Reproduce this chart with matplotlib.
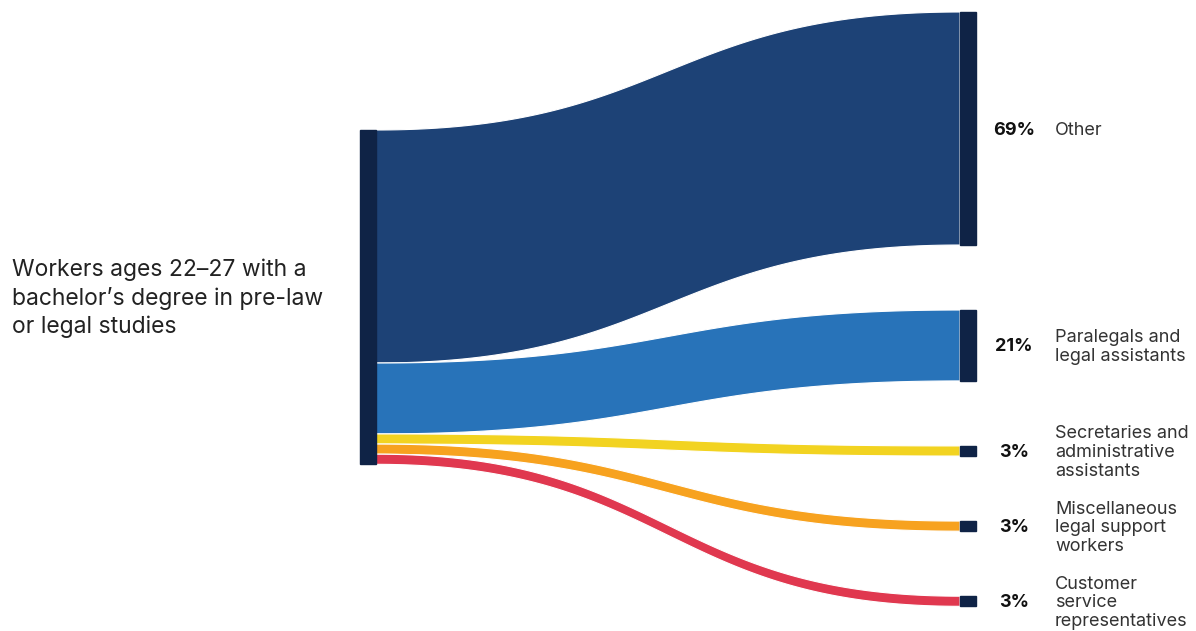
import matplotlib.pyplot as plt
import numpy as np
from matplotlib.patches import Polygon, Rectangle

plt.rcParams['font.family'] = ['Inter', 'DejaVu Sans']

# Flows out of the source node (percent of workers)
source_label = 'Workers ages 22\u201327 with a\nbachelor\u2019s degree in pre-law\nor legal studies'
targets = [
    'Other',
    'Paralegals and\nlegal assistants',
    'Secretaries and\nadministrative\nassistants',
    'Miscellaneous\nlegal support\nworkers',
    'Customer\nservice\nrepresentatives',
]
shares = [69, 21, 3, 3, 3]
flow_colors = ['#1d4276', '#2873b9', '#f2d321', '#f7a21f', '#e0384f']
node_color = '#0f2346'

# layout (in pixel-like units)
scale = 3.377          # px per percent
gap = 65               # space between target nodes
node_w = 16
x_src, x_tgt = 360, 960
src_top, tgt_top = 130, 12

fig = plt.figure(figsize=(11.96, 6.31), dpi=100)
ax = fig.add_axes([0, 0, 1, 1])
ax.set_xlim(0, 1196)
ax.set_ylim(631, 0)
ax.axis('off')

heights = np.array(shares) * scale
src_y = src_top + np.concatenate([[0], np.cumsum(heights)])
tgt_y = tgt_top + np.concatenate([[0], np.cumsum(heights + gap)])

# source node
ax.add_patch(Rectangle((x_src, src_top), node_w, heights.sum(), color=node_color, zorder=3))
ax.text(12, src_top + heights.sum() / 2 + 1, source_label, fontsize=16.5, color='#222222',
        ha='left', va='center', linespacing=1.33)


def bez(p0, p1, p2, p3, t):
    return (1 - t) ** 3 * p0 + 3 * (1 - t) ** 2 * t * p1 + 3 * (1 - t) * t ** 2 * p2 + t ** 3 * p3


t = np.linspace(0, 1, 120)
xa, xb = x_src + node_w, x_tgt
xm = (xa + xb) / 2
xs = bez(xa, xm, xm, xb, t)

for i, (h, col) in enumerate(zip(heights, flow_colors)):
    y0, y1 = src_y[i], tgt_y[i]
    top = bez(y0, y0, y1, y1, t)
    bot = bez(y0 + h, y0 + h, y1 + h, y1 + h, t)
    pts = np.vstack([np.column_stack([xs, top]), np.column_stack([xs[::-1], bot[::-1]])])
    ax.add_patch(Polygon(pts, closed=True, facecolor=col, edgecolor='white', lw=0.8, zorder=2))

    # target node and labels
    ax.add_patch(Rectangle((x_tgt, y1), node_w, h, color=node_color, zorder=3))
    yc = y1 + h / 2 + 1.5
    ax.text(1014, yc, f'{shares[i]}%', fontsize=13, fontweight='bold', color='#111111',
            ha='center', va='center')
    ax.text(1055, yc, targets[i], fontsize=13, color='#333333', ha='left', va='center',
            linespacing=1.12)

fig.savefig('out.png', dpi=100)
